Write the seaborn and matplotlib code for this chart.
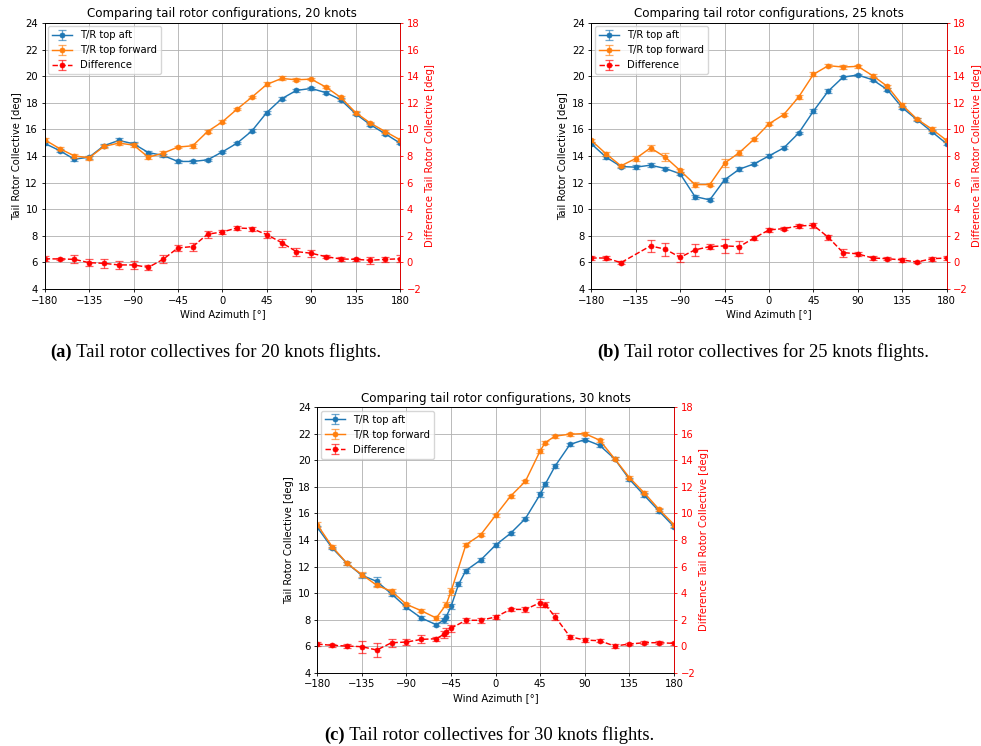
import numpy as np
import pandas as pd
import matplotlib
matplotlib.use("Agg")
import matplotlib.pyplot as plt
import seaborn as sns

# ---------------------------------------------------------------- data
AZ = [-180, -165, -150, -135, -120, -105, -90, -75, -60, -45, -30, -15,
      0, 15, 30, 45, 60, 75, 90, 105, 120, 135, 150, 165, 180]

# 20 knots
aft_20 = [14.95, 14.41, 13.76, 13.91, 14.77, 15.17, 14.92, 14.26, 14.04, 13.59,
          13.59, 13.71, 14.31, 14.97, 15.89, 17.27, 18.30, 18.93, 19.08, 18.76,
          18.23, 17.17, 16.35, 15.67, 14.97]
aft_20_err = [0.10, 0.10, 0.10, 0.10, 0.10, 0.20, 0.12, 0.10, 0.10, 0.10, 0.10,
              0.10, 0.10, 0.10, 0.12, 0.12, 0.12, 0.10, 0.10, 0.10, 0.10, 0.12,
              0.10, 0.10, 0.10]
fwd_20 = [15.22, 14.56, 14.01, 13.86, 14.72, 14.97, 14.82, 13.91, 14.21, 14.67,
          14.77, 15.84, 16.57, 17.53, 18.43, 19.38, 19.83, 19.73, 19.78, 19.18,
          18.40, 17.27, 16.47, 15.84, 15.22]
fwd_20_err = [0.15, 0.10, 0.15, 0.15, 0.12, 0.15, 0.18, 0.15, 0.20, 0.10, 0.15,
              0.12, 0.10, 0.10, 0.10, 0.15, 0.15, 0.10, 0.10, 0.10, 0.10, 0.12,
              0.10, 0.10, 0.15]
diff_20 = [0.27, 0.26, 0.23, -0.02, -0.07, -0.19, -0.19, -0.37, 0.23, 1.09,
           1.19, 2.12, 2.29, 2.59, 2.54, 2.09, 1.49, 0.81, 0.69, 0.43, 0.26,
           0.23, 0.16, 0.23, 0.27]
diff_20_err = [0.20, 0.10, 0.30, 0.25, 0.35, 0.30, 0.30, 0.20, 0.30, 0.20, 0.30,
               0.25, 0.15, 0.15, 0.15, 0.25, 0.30, 0.30, 0.25, 0.10, 0.15, 0.10,
               0.25, 0.20, 0.25]

# 25 knots
aft_25 = [14.92, 13.91, 13.21, 13.16, 13.31, 13.06, 12.66, 10.95, 10.70, 12.21,
          13.01, 13.41, 14.01, 14.61, 15.72, 17.37, 18.88, 19.93, 20.09, 19.73,
          18.98, 17.63, 16.72, 15.82, 14.92]
aft_25_err = [0.10, 0.12, 0.10, 0.15, 0.15, 0.15, 0.12, 0.15, 0.12, 0.15, 0.15,
              0.12, 0.12, 0.12, 0.10, 0.15, 0.15, 0.12, 0.10, 0.12, 0.12, 0.10,
              0.10, 0.12, 0.10]
fwd_25 = [15.17, 14.16, 13.26, 13.81, 14.61, 13.91, 12.91, 11.85, 11.85, 13.46,
          14.26, 15.27, 16.42, 17.12, 18.43, 20.14, 20.79, 20.69, 20.74, 20.04,
          19.23, 17.83, 16.77, 16.02, 15.17]
fwd_25_err = [0.12, 0.15, 0.10, 0.20, 0.20, 0.30, 0.15, 0.20, 0.10, 0.30, 0.20,
              0.12, 0.10, 0.10, 0.12, 0.15, 0.10, 0.12, 0.10, 0.12, 0.12, 0.12,
              0.10, 0.15, 0.12]
diff_25_az = [-180, -165, -150, -120, -105, -90, -75, -60, -45, -30, -15,
              0, 15, 30, 45, 60, 75, 90, 105, 120, 135, 150, 165, 180]
diff_25 = [0.33, 0.33, -0.02, 1.24, 0.99, 0.38, 0.94, 1.19, 1.24, 1.19, 1.84,
           2.44, 2.54, 2.74, 2.79, 1.89, 0.74, 0.64, 0.33, 0.28, 0.18, 0.03,
           0.28, 0.33]
diff_25_err = [0.15, 0.15, 0.10, 0.45, 0.50, 0.35, 0.45, 0.20, 0.55, 0.45, 0.12,
               0.15, 0.12, 0.12, 0.20, 0.20, 0.30, 0.15, 0.15, 0.12, 0.12, 0.10,
               0.15, 0.12]

# 30 knots
aft_30_az = [-180, -165, -150, -135, -120, -105, -90, -75, -60, -52.5, -50, -45,
             -37.5, -30, -15, 0, 15, 30, 45, 50, 60, 75, 90, 105, 120, 135, 150,
             165, 180]
aft_30 = [14.95, 13.40, 12.24, 11.34, 10.88, 9.93, 8.92, 8.12, 7.62, 7.95, 8.20,
          9.00, 10.65, 11.70, 12.50, 13.62, 14.50, 15.61, 17.45, 18.20, 19.57,
          21.20, 21.57, 21.13, 20.12, 18.58, 17.36, 16.17, 15.00]
aft_30_err = [0.12, 0.10, 0.10, 0.20, 0.35, 0.15, 0.15, 0.12, 0.10, 0.20, 0.20,
              0.20, 0.15, 0.15, 0.15, 0.12, 0.10, 0.12, 0.20, 0.15, 0.15, 0.10,
              0.10, 0.10, 0.10, 0.12, 0.15, 0.15, 0.12]
fwd_30_az = [-180, -165, -150, -135, -120, -105, -90, -75, -60, -50, -45, -30,
             -15, 0, 15, 30, 45, 50, 60, 75, 90, 105, 120, 135, 150, 165, 180]
fwd_30 = [15.15, 13.50, 12.24, 11.39, 10.59, 10.13, 9.15, 8.67, 8.12, 9.13,
          10.13, 13.65, 14.40, 15.86, 17.30, 18.42, 20.73, 21.34, 21.83, 21.97,
          22.02, 21.52, 20.13, 18.70, 17.55, 16.30, 15.16]
fwd_30_err = [0.20, 0.12, 0.10, 0.20, 0.15, 0.20, 0.12, 0.10, 0.15, 0.20, 0.25,
              0.12, 0.12, 0.12, 0.10, 0.12, 0.15, 0.12, 0.12, 0.10, 0.10, 0.12,
              0.10, 0.12, 0.12, 0.12, 0.15]
diff_30_az = [-180, -165, -150, -135, -120, -105, -90, -75, -60, -52.5, -50, -45,
              -30, -15, 0, 15, 30, 45, 50, 60, 75, 90, 105, 120, 135, 150, 165,
              180]
diff_30 = [0.16, 0.06, 0.01, -0.04, -0.29, 0.26, 0.31, 0.51, 0.56, 0.88, 1.10,
           1.35, 1.95, 1.95, 2.20, 2.77, 2.77, 3.28, 3.13, 2.22, 0.71, 0.46, 0.41,
           0.01, 0.16, 0.26, 0.26, 0.21]
diff_30_err = [0.15, 0.10, 0.15, 0.45, 0.55, 0.30, 0.20, 0.30, 0.15, 0.25, 0.30,
               0.25, 0.20, 0.20, 0.12, 0.12, 0.20, 0.30, 0.20, 0.25, 0.15, 0.15,
               0.12, 0.15, 0.10, 0.10, 0.10, 0.10]

TITLES = ["Comparing tail rotor configurations, 20 knots",
          "Comparing tail rotor configurations, 25 knots",
          "Comparing tail rotor configurations, 30 knots"]
CAPTION_TAGS = ["(a)", "(b)", "(c)"]
CAPTIONS = ["Tail rotor collectives for 20 knots flights.",
            "Tail rotor collectives for 25 knots flights.",
            "Tail rotor collectives for 30 knots flights."]
SERIES_LABELS = ["T/R top aft", "T/R top forward", "Difference"]
X_TICKS = [-180, -135, -90, -45, 0, 45, 90, 135, 180]
LEFT_TICKS = list(range(4, 25, 2))
RIGHT_TICKS = list(range(-2, 19, 2))

# ---------------------------------------------------------------- style
FS = 7.2
plt.rcParams.update({
    "font.family": ["DejaVu Sans"],
    "axes.linewidth": 0.6,
    "xtick.major.width": 0.6,
    "ytick.major.width": 0.6,
    "xtick.major.size": 2.5,
    "ytick.major.size": 2.5,
    "xtick.major.pad": 2.3,
    "ytick.major.pad": 2.3,
    "grid.linewidth": 0.6,
    "grid.color": "#b0b0b0",
})

BLUE, ORANGE, RED = "#1f77b4", "#ff7f0e", "red"


def series(ax, az, vals, err, color, ls):
    df = pd.DataFrame({"az": az, "val": vals})
    sns.lineplot(data=df, x="az", y="val", ax=ax, color=color, linestyle=ls,
                 linewidth=1.05, marker="o", markersize=3.6,
                 markeredgecolor=color, markeredgewidth=0.5,
                 estimator=None, sort=False, legend=False)
    line = ax.get_lines()[-1]
    eb = ax.errorbar(az, vals, yerr=err, fmt="none", ecolor=color,
                     elinewidth=0.9, capsize=2.9, capthick=0.9, alpha=0.65)
    return (line, eb)


def panel(rect, title, aft, fwd, diff):
    ax = fig.add_axes(rect)
    ax2 = ax.twinx()
    h1 = series(ax, *aft, BLUE, "-")
    h2 = series(ax, *fwd, ORANGE, "-")
    h3 = series(ax2, *diff, RED, "--")

    ax.set_xlim(-180, 180)
    ax.set_ylim(4, 24)
    ax2.set_ylim(-2, 18)
    ax.set_xticks(X_TICKS)
    ax.set_yticks(LEFT_TICKS)
    ax2.set_yticks(RIGHT_TICKS)
    ax.grid(True)
    ax.tick_params(labelsize=FS)
    ax2.tick_params(axis="y", labelsize=FS, colors=RED)
    ax2.spines["right"].set_color(RED)
    ax.set_title(title, fontsize=8.6, pad=4)
    ax.set_xlabel("Wind Azimuth [°]", fontsize=FS, labelpad=2.5)
    ax.set_ylabel("Tail Rotor Collective [deg]", fontsize=FS, labelpad=2.5)
    ax2.set_ylabel("Difference Tail Rotor Collective [deg]", fontsize=FS,
                   color=RED, labelpad=2.5)
    ax2.legend([h1, h2, h3], SERIES_LABELS, loc="upper left", fontsize=FS,
               borderaxespad=0.35)
    return ax


W, H = 981, 746
fig = plt.figure(figsize=(W / 100, H / 100), dpi=100)


def frac(left, top, right, bottom):
    return [left / W, 1 - bottom / H, (right - left) / W, (bottom - top) / H]


panel(frac(44.7, 23, 400, 289), TITLES[0],
      (AZ, aft_20, aft_20_err), (AZ, fwd_20, fwd_20_err),
      (AZ, diff_20, diff_20_err))
panel(frac(591.3, 23, 946.7, 289), TITLES[1],
      (AZ, aft_25, aft_25_err), (AZ, fwd_25, fwd_25_err),
      (diff_25_az, diff_25, diff_25_err))
panel(frac(317.3, 407.3, 674, 672.7), TITLES[2],
      (aft_30_az, aft_30, aft_30_err), (fwd_30_az, fwd_30, fwd_30_err),
      (diff_30_az, diff_30, diff_30_err))

# ---------------------------------------------------------------- captions
renderer = fig.canvas.get_renderer()


def caption(cx, cy, tag, text):
    kw = dict(fontfamily="Liberation Serif", fontsize=13.3, va="center")
    t1 = fig.text(0, 0, tag, fontweight="bold", **kw)
    t2 = fig.text(0, 0, " " + text, **kw)
    w1 = t1.get_window_extent(renderer).width
    w2 = t2.get_window_extent(renderer).width
    x0 = cx - (w1 + w2) / 2
    t1.set_position((x0 / W, 1 - cy / H))
    t2.set_position(((x0 + w1) / W, 1 - cy / H))


caption(215.3, 352, CAPTION_TAGS[0], CAPTIONS[0])
caption(763, 352, CAPTION_TAGS[1], CAPTIONS[1])
caption(489, 735, CAPTION_TAGS[2], CAPTIONS[2])

fig.savefig("out.png", dpi=100)
